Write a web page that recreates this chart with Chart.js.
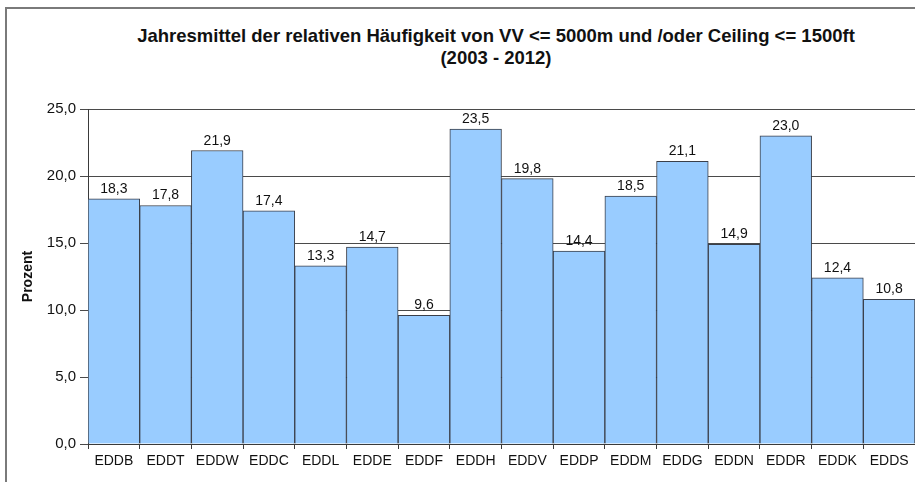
<!DOCTYPE html>
<html>
<head>
<meta charset="utf-8">
<script src="https://cdn.jsdelivr.net/npm/chart.js@4.4.0/dist/chart.umd.min.js"></script>
<style>
  html, body { margin: 0; padding: 0; background: #fff; }
  #wrap { position: relative; width: 915px; height: 482px; overflow: hidden; }
  #frame { position: absolute; left: 5px; top: 7px; width: 920px; height: 480px;
           border-left: 2px solid #7a7a7a; border-top: 2px solid #7a7a7a; }
  #title { position: absolute; left: 69px; width: 854px; top: 25px; text-align: center;
           font: bold 18.5px "Liberation Sans", Arial, sans-serif; line-height: 21.5px; color: #111; }
  #chart_canvas { position: absolute; left: 0; top: 0; }
</style>
</head>
<body>
<div id="wrap">
  <div id="frame"></div>
  <div id="title">Jahresmittel der relativen Häufigkeit von VV &lt;= 5000m und /oder Ceiling &lt;= 1500ft<br>(2003 - 2012)</div>
  <canvas id="chart_canvas" width="915" height="482"></canvas>
</div>
<script>
const station_labels = ['EDDB', 'EDDT', 'EDDW', 'EDDC', 'EDDL', 'EDDE', 'EDDF', 'EDDH',
                        'EDDV', 'EDDP', 'EDDM', 'EDDG', 'EDDN', 'EDDR', 'EDDK', 'EDDS'];
const station_values = [18.3, 17.8, 21.9, 17.4, 13.3, 14.7, 9.6, 23.5,
                        19.8, 14.4, 18.5, 21.1, 14.9, 23.0, 12.4, 10.8];
const y_ticks = [0, 5, 10, 15, 20, 25];

function fmt_komma(v) {
    return Number(v).toFixed(1).replace('.', ',');
}

// draws the value above every bar
const value_labels = {
    id: 'value_labels',
    afterDatasetsDraw(chart) {
        const ctx = chart.ctx;
        const meta = chart.getDatasetMeta(0);
        ctx.save();
        ctx.font = '14px "Liberation Sans", Arial, sans-serif';
        ctx.fillStyle = '#111';
        ctx.textAlign = 'center';
        ctx.textBaseline = 'alphabetic';
        meta.data.forEach(function (bar, i) {
            ctx.fillText(fmt_komma(station_values[i]), bar.x, bar.y - 6);
        });
        ctx.restore();
    }
};

const chart_canvas = document.getElementById('chart_canvas');

new Chart(chart_canvas, {
    type: 'bar',
    data: {
        labels: station_labels,
        datasets: [{
            data: station_values,
            backgroundColor: '#99ccff',
            borderColor: '#3a3f4a',
            borderWidth: 1,
            categoryPercentage: 1.0,
            barPercentage: 1.0,
        }]
    },
    options: {
        responsive: false,
        animation: false,
        events: [],
        layout: {
            padding: { top: 109, right: 0, bottom: 0, left: 0 }
        },
        plugins: {
            legend: false,
            title: { display: false },
            tooltip: { enabled: false }
        },
        scales: {
            x: {
                grid: {
                    display: true,
                    drawOnChartArea: false,
                    drawTicks: true,
                    tickLength: 5,
                    color: '#3a3a3a',
                    offset: true
                },
                border: { color: '#3a3a3a', width: 1 },
                ticks: {
                    color: '#111',
                    padding: 4,
                    maxRotation: 0,
                    autoSkip: false,
                    font: { family: '"Liberation Sans", Arial, sans-serif', size: 14 }
                },
                afterFit(scale) { scale.height = 38; }
            },
            y: {
                min: 0,
                max: 25,
                afterBuildTicks(scale) {
                    scale.ticks = y_ticks.map(v => ({ value: v }));
                },
                grid: {
                    color: '#4a4a4a',
                    tickLength: 8,
                    drawTicks: true
                },
                border: { color: '#3a3a3a', width: 1 },
                ticks: {
                    color: '#111',
                    padding: 4,
                    font: { family: '"Liberation Sans", Arial, sans-serif', size: 15 },
                    callback: v => fmt_komma(v)
                },
                title: {
                    display: true,
                    text: 'Prozent',
                    color: '#111',
                    padding: { top: 20, bottom: 0 },
                    font: { family: '"Liberation Sans", Arial, sans-serif', size: 14, weight: 'bold' }
                },
                afterFit(scale) { scale.width = 88; }
            }
        }
    },
    plugins: [value_labels]
});
</script>
</body>
</html>
